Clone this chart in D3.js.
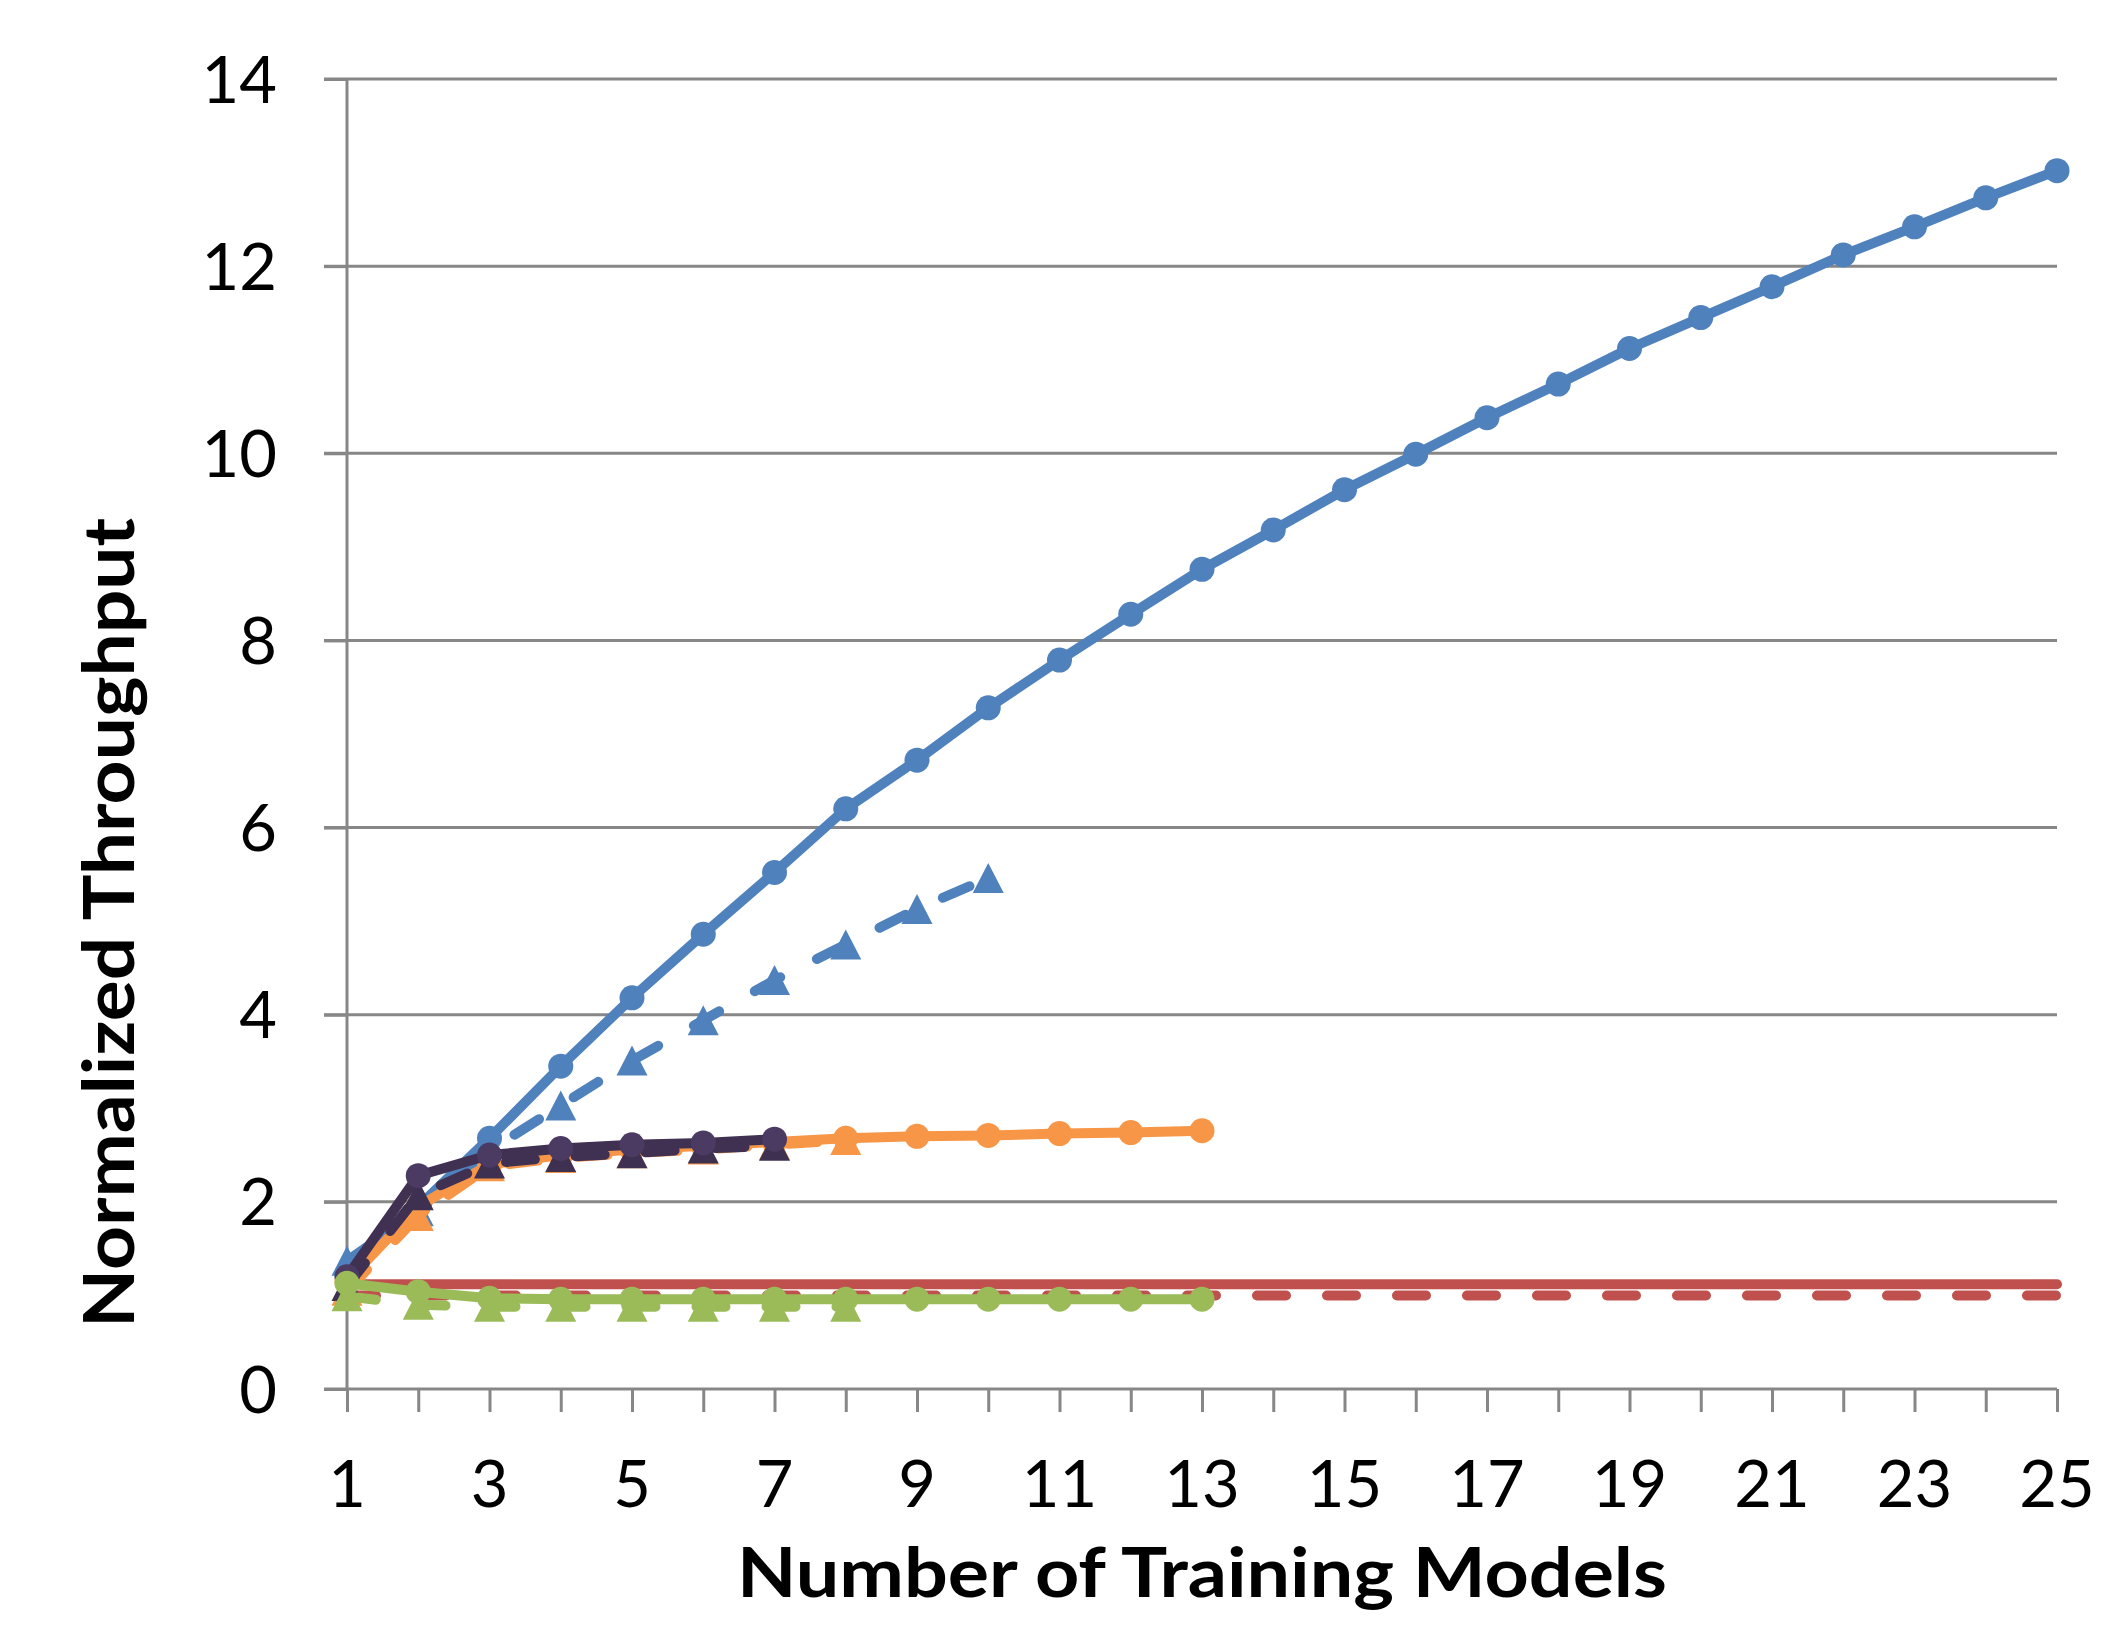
<!DOCTYPE html>
<html><head><meta charset="utf-8">
<script src="https://cdn.jsdelivr.net/npm/d3@7"></script>
<style>body{margin:0;background:#fff} svg{display:block}</style>
</head><body>
<svg id="chart" width="2122" height="1626"></svg>
<script>
// ---- data ----
const models = [1,2,3,4,5,6,7,8,9,10,11,12,13,14,15,16,17,18,19,20,21,22,23,24,25];
const xTickLabels = [1,3,5,7,9,11,13,15,17,19,21,23,25];
const yTicks = [0,2,4,6,8,10,12,14];

const blueSolid   = [1.22,1.95,2.68,3.45,4.18,4.86,5.52,6.20,6.72,7.28,7.79,8.28,8.76,9.18,9.61,9.99,10.38,10.74,11.12,11.45,11.78,12.12,12.42,12.73,13.02];
const blueDashed  = [1.37,1.90,2.55,3.03,3.51,3.94,4.37,4.75,5.13,5.46];
const orangeSolid = [1.15,1.95,2.40,2.50,2.56,2.60,2.64,2.68,2.70,2.71,2.73,2.74,2.76];
const orangeDashed= [1.05,1.85,2.38,2.47,2.52,2.56,2.61,2.66];
const purpleSolid = [1.20,2.28,2.50,2.57,2.61,2.63,2.67];
const purpleDashed= [1.10,2.07,2.41,2.48,2.52,2.57,2.60];
const greenSolid  = [1.13,1.04,0.97,0.96,0.96,0.96,0.96,0.96,0.96,0.96,0.96,0.96,0.96];
const greenDashed = [0.99,0.90,0.88,0.88,0.88,0.88,0.88,0.88];
const redSolid    = [1.12,1.12,1.12,1.12,1.12,1.12,1.12,1.12,1.12,1.12,1.12,1.12,1.12,1.12,1.12,1.12,1.12,1.12,1.12,1.12,1.12,1.12,1.12,1.12,1.12];
const redDashed   = [1.0,1.0,1.0,1.0,1.0,1.0,1.0,1.0,1.0,1.0,1.0,1.0,1.0,1.0,1.0,1.0,1.0,1.0,1.0,1.0,1.0,1.0,1.0,1.0,1.0];

const xTitle = "Number of Training Models";
const yTitle = "Normalized Throughput";

// series in drawing order
const series = [
  {values: redSolid,    line: "#C0504D", fill: null,      dashed: false, marker: null},
  {values: redDashed,   line: "#C0504D", fill: null,      dashed: true,  marker: null},
  {values: blueDashed,  line: "#4F81BD", fill: "#4F81BD", dashed: true,  marker: "tri"},
  {values: blueSolid,   line: "#4F81BD", fill: "#4F81BD", dashed: false, marker: "circle"},
  {values: orangeDashed,line: "#F79646", fill: "#F79646", dashed: true,  marker: "tri"},
  {values: orangeSolid, line: "#F79646", fill: "#F79646", dashed: false, marker: "circle"},
  {values: purpleDashed,line: "#403152", fill: "#3E3050", dashed: true,  marker: "tri"},
  {values: purpleSolid, line: "#403152", fill: "#4B3B63", dashed: false, marker: "circle"},
  {values: greenDashed, line: "#9BBB59", fill: "#9BBB59", dashed: true,  marker: "tri"},
  {values: greenSolid,  line: "#9BBB59", fill: "#9BBB59", dashed: false, marker: "circle"}
];

// ---- layout ----
const svg = d3.select("#chart");
const plotLeft = 347, plotRight = 2057, plotTop = 79, plotBottom = 1389;
const x = d3.scaleLinear().domain([1,25]).range([plotLeft,plotRight]);
const y = d3.scaleLinear().domain([0,14]).range([plotBottom,plotTop]);
const grey = "#878787";
const font = "Lato, 'Open Sans', sans-serif";

// gridlines (extend left as y ticks)
svg.append("g").selectAll("line").data(yTicks.filter(d => d > 0)).join("line")
  .attr("x1", plotLeft - 23).attr("x2", plotRight)
  .attr("y1", d => y(d)).attr("y2", d => y(d))
  .attr("stroke", grey).attr("stroke-width", 3);

// y axis
const yAxis = svg.append("g").attr("transform", `translate(${plotLeft},0)`)
  .call(d3.axisLeft(y).tickValues(yTicks).tickSize(23).tickFormat(""));
yAxis.select(".domain").attr("stroke", grey).attr("stroke-width", 3)
  .attr("d", `M0,${plotTop}V${plotBottom}`);
yAxis.selectAll(".tick line").attr("stroke", grey).attr("stroke-width", 3);

// x axis
const xAxis = svg.append("g").attr("transform", `translate(0,${plotBottom})`)
  .call(d3.axisBottom(x).tickValues(models).tickSize(23).tickFormat(""));
xAxis.select(".domain").attr("stroke", grey).attr("stroke-width", 3)
  .attr("d", `M${plotLeft-23},0H${plotRight}`);
xAxis.selectAll(".tick line").attr("stroke", grey).attr("stroke-width", 3);

// y tick labels
svg.append("g").selectAll("text").data(yTicks).join("text")
  .attr("x", 277).attr("y", d => y(d) + 23.5)
  .attr("text-anchor", "end")
  .attr("font-family", font).attr("font-size", 65).attr("fill", "#000")
  .text(d => d);

// x tick labels
svg.append("g").selectAll("text").data(xTickLabels).join("text")
  .attr("x", d => x(d)).attr("y", 1507)
  .attr("text-anchor", "middle")
  .attr("font-family", font).attr("font-size", 65).attr("fill", "#000")
  .text(d => d);

// axis titles
svg.append("text")
  .attr("x", 737).attr("y", 1597)
  .attr("font-family", font).attr("font-weight", "bold").attr("font-size", 69)
  .attr("textLength", 930).attr("lengthAdjust", "spacingAndGlyphs")
  .text(xTitle);

svg.append("text")
  .attr("transform", "translate(134,1328) rotate(-90)")
  .attr("x", 0).attr("y", 0)
  .attr("font-family", font).attr("font-weight", "bold").attr("font-size", 70)
  .attr("textLength", 810).attr("lengthAdjust", "spacingAndGlyphs")
  .text(yTitle);

// series
const lineGen = d3.line().x((d,i) => x(models[i])).y(d => y(d));
const triPath = "M0,-15L15.5,15L-15.5,15Z";

series.forEach(s => {
  const g = svg.append("g");
  g.append("path").datum(s.values)
    .attr("d", lineGen)
    .attr("fill", "none")
    .attr("stroke", s.line)
    .attr("stroke-width", 10)
    .attr("stroke-linejoin", "round")
    .attr("stroke-linecap", "round")
    .attr("stroke-dasharray", s.dashed ? "29,41" : null);
  if (s.marker === "circle") {
    g.selectAll("circle").data(s.values).join("circle")
      .attr("cx", (d,i) => x(models[i])).attr("cy", d => y(d))
      .attr("r", 12.5).attr("fill", s.fill);
  } else if (s.marker === "tri") {
    g.selectAll("path.m").data(s.values).join("path").attr("class", "m")
      .attr("d", triPath)
      .attr("transform", (d,i) => `translate(${x(models[i])},${y(d)})`)
      .attr("fill", s.fill);
  }
});
</script>
</body></html>
